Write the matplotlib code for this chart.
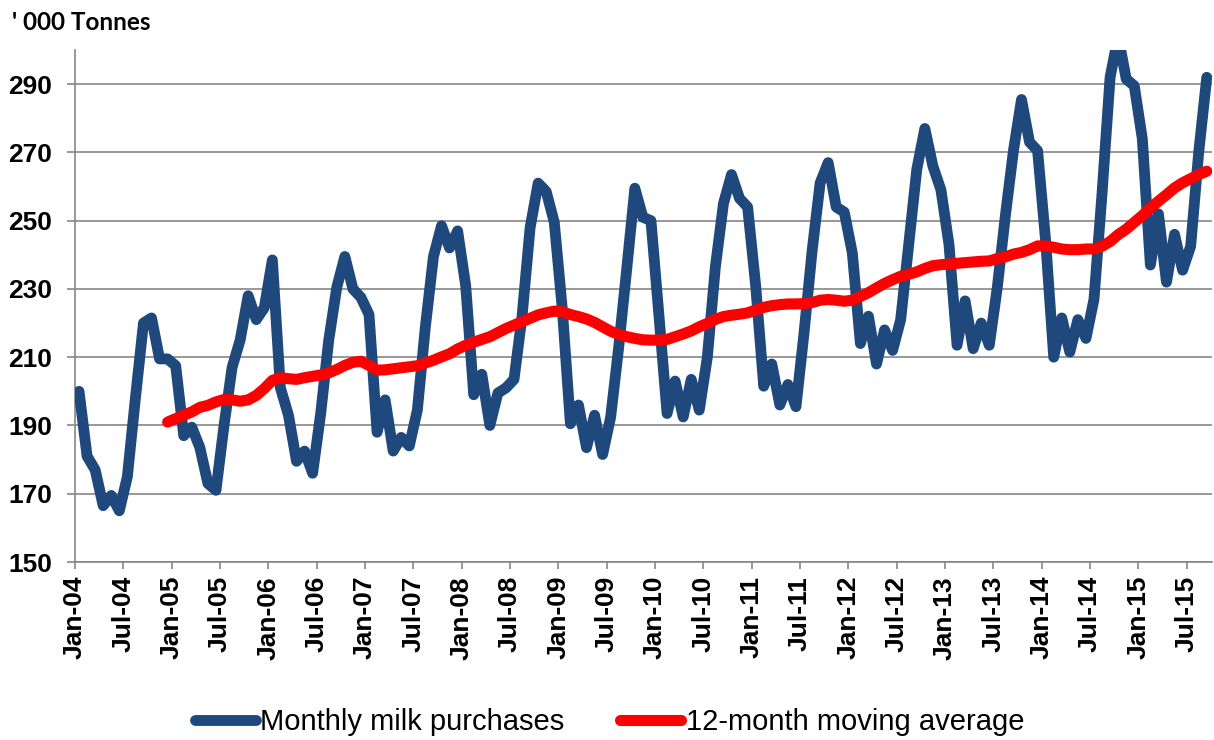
import numpy as np
import matplotlib
matplotlib.use("Agg")
import matplotlib.pyplot as plt

plt.rcParams['font.family'] = ['Liberation Sans', 'DejaVu Sans']

# Monthly milk purchases, '000 tonnes, Jan-04 .. Sep-15 (one row per year)
milk = [
    200, 181, 177, 166.5, 169.5, 165, 175, 198, 220, 221.5, 209.5, 209.5,
    207.5, 187, 189.5, 183.5, 173, 171, 190, 207, 215, 228, 221, 224.5,
    238.5, 201, 193, 179.5, 182.5, 176, 193.5, 215, 230.5, 239.5, 230, 227.5,
    222.5, 188, 197.5, 182.5, 186.5, 184, 194.5, 219, 239.5, 248.5, 242, 247,
    231, 199, 205, 190, 199.5, 201, 203.5, 222, 248, 261, 258.5, 249.5,
    224, 190.5, 196, 183.5, 193, 181.5, 192.5, 213, 236, 259.5, 251, 250,
    222, 193.5, 203, 192.5, 203.5, 194.5, 210, 236.5, 255, 263.5, 256.5, 254,
    231, 201.5, 208, 196, 202, 195.5, 217, 241, 261, 267, 254, 252.5,
    240.5, 214, 222, 208, 218, 212, 221, 243, 265, 277, 266, 259,
    243, 213.5, 226.5, 212.5, 220, 213.5, 230.5, 251.5, 270.5, 285.5, 273, 270.5,
    244, 210, 221.5, 211.5, 221, 215.5, 227, 258, 292, 304, 291.5, 289.5,
    274, 237, 252, 232, 246, 235.5, 242.5, 270, 292,
]

# 12-month moving average, Dec-04 .. Sep-15
ma_start = 11
moving_avg = [
    191,
    192, 193, 194, 195.3, 195.9, 196.9, 197.6, 197.5, 197.1, 197.5, 198.8, 200.8,
    203.2, 204, 203.7, 203.5, 204, 204.4, 204.8, 205.4, 206.4, 207.6, 208.5, 208.8,
    207.6, 206.2, 206.3, 206.6, 206.9, 207.2, 207.5, 208.3, 209.1, 210.1, 211, 212.4,
    213.5, 214.4, 215.2, 216, 217.2, 218.4, 219.4, 220.4, 221.4, 222.4, 223, 223.5,
    223.3, 222.5, 221.9, 221.2, 220.2, 218.9, 217.6, 216.7, 216, 215.5, 215.1, 215,
    215, 215.2, 216, 216.8, 217.7, 218.9, 219.9, 221.1, 221.9, 222.3, 222.6, 223,
    223.8, 224.6, 225.1, 225.4, 225.6, 225.6, 225.7, 226, 226.7, 226.9, 226.7, 226.4,
    226.7, 227.8, 228.9, 230.3, 231.6, 232.7, 233.7, 234.3, 235, 236, 236.8, 237.1,
    237.3, 237.5, 237.7, 237.9, 238.1, 238.2, 238.9, 239.4, 240.2, 240.7, 241.5, 242.6,
    242.6, 242.2, 241.7, 241.5, 241.5, 241.7, 241.7, 242.5, 243.9, 245.9, 247.5, 249.5,
    251.5, 253.7, 255.7, 257.6, 259.6, 261.1, 262.3, 263.5, 264.5,
]

tick_labels = ['Jan-04', 'Jul-04', 'Jan-05', 'Jul-05', 'Jan-06', 'Jul-06',
               'Jan-07', 'Jul-07', 'Jan-08', 'Jul-08', 'Jan-09', 'Jul-09',
               'Jan-10', 'Jul-10', 'Jan-11', 'Jul-11', 'Jan-12', 'Jul-12',
               'Jan-13', 'Jul-13', 'Jan-14', 'Jul-14', 'Jan-15', 'Jul-15']

blue = '#1F497D'
grey = '#868686'

# month slots: each point sits in the middle of its month
x = np.arange(len(milk)) + 0.5

fig = plt.figure(figsize=(12.14, 7.40), dpi=100)
ax = fig.add_axes([75 / 1214, 1 - 562 / 740, 1137 / 1214, 512 / 740])

ax.plot(x, milk, color=blue, lw=7.8, solid_capstyle='round',
        solid_joinstyle='round', label='Monthly milk purchases', zorder=3)
ax.plot(x[ma_start:], moving_avg, color='#FF0000', lw=8, solid_capstyle='round',
        solid_joinstyle='round', label='12-month moving average', zorder=4)

ax.set_xlim(0, 141.15)
ax.set_ylim(150, 300)
ax.set_yticks(np.arange(150, 300, 20))
ax.set_xticks(np.arange(len(tick_labels)) * 6)
ax.set_xticklabels(tick_labels, rotation=90, fontweight='bold', fontsize=19)
for lab in ax.get_yticklabels():
    lab.set_fontweight('bold')
    lab.set_fontsize(19)

ax.grid(axis='y', color=grey, lw=1.2)
ax.set_axisbelow(True)
for side in ['top', 'right']:
    ax.spines[side].set_visible(False)
for side in ['left', 'bottom']:
    ax.spines[side].set_color(grey)
    ax.spines[side].set_linewidth(1.2)
ax.tick_params(axis='y', length=5.8, width=1.2, color=grey, pad=10.5)
ax.tick_params(axis='x', length=5, width=1.2, color=grey, pad=5)

fig.text(12 / 1214, 1 - 22 / 740, "' 000 Tonnes", fontsize=17.5, fontweight='bold',
         family=['Lato', 'DejaVu Sans'], va='center', ha='left')

fig.legend(loc='center', bbox_to_anchor=(0.502, 1 - 722 / 740), ncol=2,
           frameon=False, fontsize=21, handlelength=2.1, handletextpad=0.15,
           columnspacing=1.9)

fig.savefig('out.png', dpi=100)
